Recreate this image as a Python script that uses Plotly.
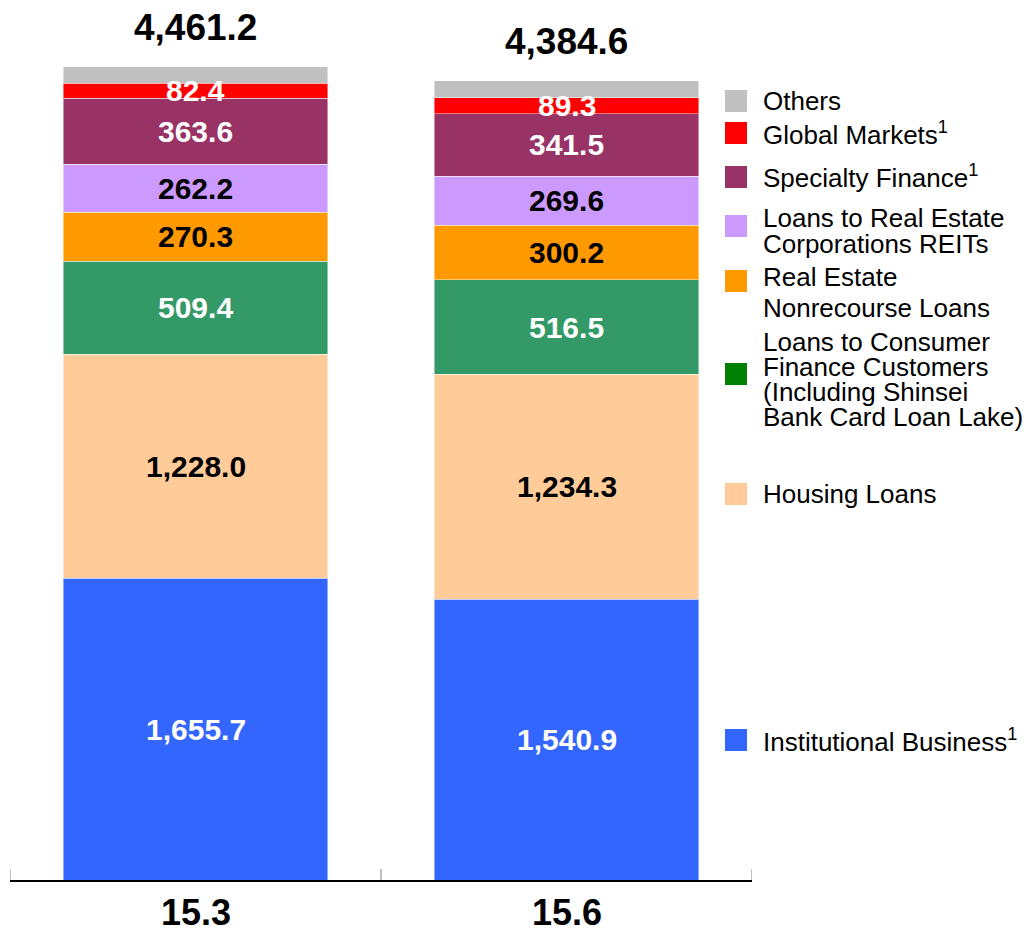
import plotly.graph_objects as go

# ---------------- data ----------------
categories = ["15.3", "15.6"]
institutional = [1655.7, 1540.9]
housing = [1228.0, 1234.3]
consumer = [509.4, 516.5]
nonrecourse = [270.3, 300.2]
reits = [262.2, 269.6]
specialty = [363.6, 341.5]
global_markets = [82.4, 89.3]
others = [89.6, 92.3]
totals = [4461.2, 4384.6]

series = [
    ("Institutional Business", institutional, "#3366FF", "white"),
    ("Housing Loans", housing, "#FFCC99", "black"),
    ("Loans to Consumer Finance Customers", consumer, "#339966", "white"),
    ("Real Estate Nonrecourse Loans", nonrecourse, "#FF9900", "black"),
    ("Loans to Real Estate Corporations REITs", reits, "#CC99FF", "black"),
    ("Specialty Finance", specialty, "#993366", "white"),
    ("Global Markets", global_markets, "#FF0000", "white"),
    ("Others", others, "#C0C0C0", None),
]

FONT = "Liberation Sans, Arial, sans-serif"

# ---------------- layout geometry (pixels) ----------------
W_FIG, H_FIG = 1027, 928
L, R, T, B = 10, 275, 40, 48
PW = W_FIG - L - R
PH = H_FIG - T - B


def px_x(px):
    return (px - L) / PW


def px_y(py):
    return (H_FIG - B - py) / PH


fig = go.Figure()
annotations = []
base = [0.0, 0.0]
for name, vals, color, tcolor in series:
    fig.add_trace(go.Bar(
        x=list(range(len(categories))), y=vals, name=name,
        marker=dict(color=color, line=dict(color="rgba(255,255,255,0.45)", width=1)),
        width=0.714, showlegend=False, hoverinfo="y+name",
    ))
    if tcolor is not None:
        for i in range(len(categories)):
            annotations.append(dict(
                x=i, y=base[i] + vals[i] / 2, xref="x", yref="y",
                text=f"<b>{vals[i]:,.1f}</b>", showarrow=False,
                font=dict(family=FONT, size=30, color=tcolor),
                xanchor="center", yanchor="middle",
            ))
    base = [base[i] + vals[i] for i in range(len(categories))]

for i in range(len(categories)):
    annotations.append(dict(
        x=i, y=totals[i], xref="x", yref="y",
        text=f"<b>{totals[i]:,.1f}</b>", showarrow=False,
        font=dict(family=FONT, size=37, color="black"),
        xanchor="center", yanchor="middle", yshift=39,
    ))

# ---------------- manual legend ----------------
legend_items = [
    ("#C0C0C0", 101, [("Others", 101)]),
    ("#FF0000", 133, [("Global Markets<sup>1</sup>", 133)]),
    ("#993366", 177, [("Specialty Finance<sup>1</sup>", 177)]),
    ("#CC99FF", 226, [("Loans to Real Estate", 218), ("Corporations REITs", 244)]),
    ("#FF9900", 281, [("Real Estate", 277), ("Nonrecourse Loans", 308)]),
    ("#008000", 374, [("Loans to Consumer", 342), ("Finance Customers", 367),
                      ("(Including Shinsei", 392), ("Bank Card Loan Lake)", 417)]),
    ("#FFCC99", 494, [("Housing Loans", 494)]),
    ("#3366FF", 740, [("Institutional Business<sup>1</sup>", 740)]),
]
shapes = []
for color, sq_y, lines in legend_items:
    shapes.append(dict(
        type="rect", xref="paper", yref="paper",
        x0=px_x(725), x1=px_x(747), y0=px_y(sq_y + 11), y1=px_y(sq_y - 11),
        fillcolor=color, line=dict(width=0),
    ))
    for text, ly in lines:
        annotations.append(dict(
            x=px_x(761), y=px_y(ly), xref="paper", yref="paper",
            text=text, showarrow=False, xanchor="left", yanchor="middle",
            font=dict(family=FONT, size=26, color="black"),
        ))

# category-boundary tick marks (at both ends and between the two bars)
for xb in [-0.5, 0.5, 1.5]:
    shapes.append(dict(
        type="line", xref="x", yref="paper", x0=xb, x1=xb,
        y0=0, y1=11 / PH, line=dict(color="#808080", width=1),
    ))

fig.update_layout(
    barmode="stack",
    width=W_FIG, height=H_FIG,
    margin=dict(l=L, r=R, t=T, b=B, pad=0, autoexpand=False),
    paper_bgcolor="white", plot_bgcolor="white",
    annotations=annotations, shapes=shapes,
    xaxis=dict(
        range=[-0.5, 1.5], automargin=False,
        showline=True, linecolor="black", linewidth=1.5,
        ticks="", showticklabels=False, showgrid=False, zeroline=False,
    ),
    yaxis=dict(range=[0, 4608], visible=False, showgrid=False, automargin=False),
)

# category labels under the axis
for i, c in enumerate(categories):
    fig.add_annotation(
        x=i, y=0, xref="x", yref="y", text=f"<b>{c}</b>", showarrow=False,
        xanchor="center", yanchor="middle", yshift=-32,
        font=dict(family=FONT, size=36, color="black"),
    )

fig.write_html(
    "out.html",
    config={"displayModeBar": False},
    post_script="document.body.style.margin='0';document.body.style.overflow='hidden';",
)
